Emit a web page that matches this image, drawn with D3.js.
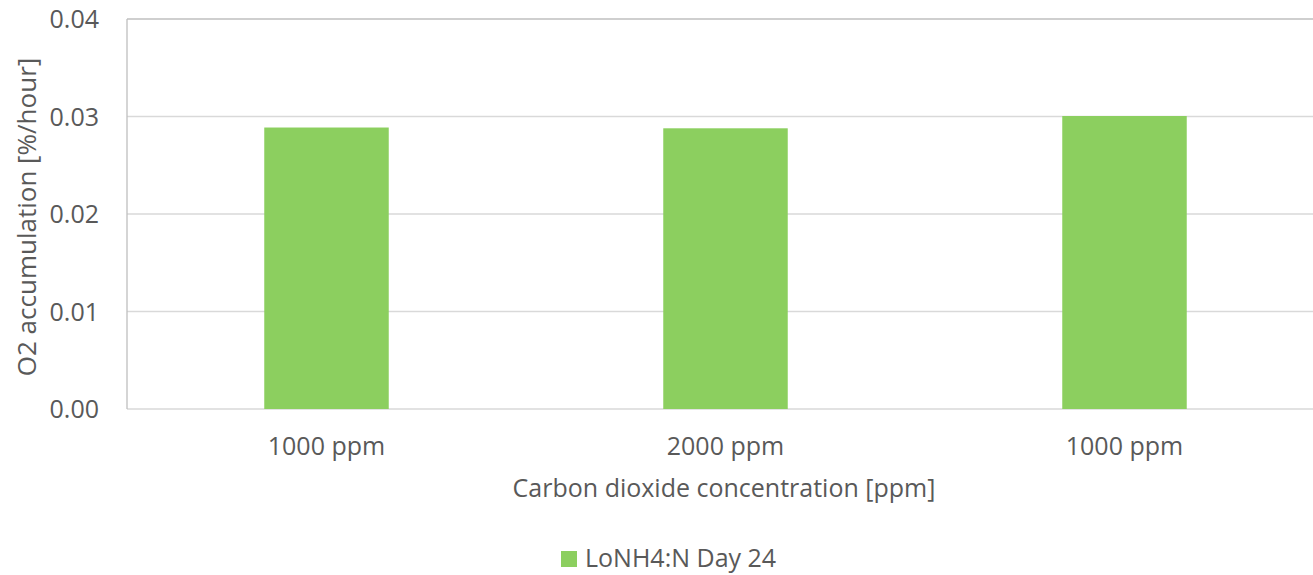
<!DOCTYPE html>
<html>
<head>
<meta charset="utf-8">
<script src="https://cdn.jsdelivr.net/npm/d3@7"></script>
<style>
  body { margin: 0; background: #fff; }
  text { font-family: "Open Sans", sans-serif; fill: #595959; }
</style>
</head>
<body>
<div id="chart-area"></div>
<script>
// chart data
const categories = ["1000 ppm", "2000 ppm", "1000 ppm "];
const values = [0.02887, 0.02879, 0.03005];
const seriesName = "LoNH4:N Day 24";
const yTicks = [0, 0.01, 0.02, 0.03, 0.04];

const width = 1313, height = 575;
const margin = { top: 19, left: 127, bottom: 166 };
const plotRight = 1324; // plot area runs a little past the picture edge

const svg = d3.select("#chart-area").append("svg")
    .attr("width", width)
    .attr("height", height)

const x = d3.scaleBand()
    .domain(categories)
    .range([margin.left, plotRight])
    .paddingInner(0.688)
    .paddingOuter(0.344)

const y = d3.scaleLinear()
    .domain([0, 0.04])
    .range([height - margin.bottom, margin.top])

// gridlines
svg.selectAll("line.grid")
    .data(yTicks)
    .enter().append("line")
    .attr("class", "grid")
    .attr("x1", margin.left)
    .attr("x2", plotRight)
    .attr("y1", d => y(d))
    .attr("y2", d => y(d))
    .attr("stroke", d => d === 0.04 ? "#bfbfbf" : "#d9d9d9")
    .attr("stroke-width", 1.3)

// left axis line
svg.append("line")
    .attr("x1", margin.left).attr("x2", margin.left)
    .attr("y1", y(0.04)).attr("y2", y(0))
    .attr("stroke", "#bfbfbf")
    .attr("stroke-width", 1.3)

// bars
svg.selectAll("rect.bar")
    .data(values)
    .enter().append("rect")
    .attr("class", "bar")
    .attr("x", (d, i) => x(categories[i]))
    .attr("width", x.bandwidth())
    .attr("y", d => y(d))
    .attr("height", d => y(0) - y(d))
    .attr("fill", "#8ccf5f")

// y tick labels
svg.selectAll("text.ytick")
    .data(yTicks)
    .enter().append("text")
    .attr("class", "ytick")
    .attr("x", 99)
    .attr("y", d => y(d))
    .attr("dy", "0.36em")
    .attr("text-anchor", "end")
    .style("font-size", "25px")
    .text(d => d3.format(".2f")(d))

// x tick labels
svg.selectAll("text.xtick")
    .data(categories)
    .enter().append("text")
    .attr("class", "xtick")
    .attr("x", d => x(d) + x.bandwidth() / 2)
    .attr("y", 455)
    .attr("text-anchor", "middle")
    .style("font-size", "25px")
    .text(d => d.trim())

// axis titles
svg.append("text")
    .attr("x", 724)
    .attr("y", 497)
    .attr("text-anchor", "middle")
    .style("font-size", "25px")
    .text("Carbon dioxide concentration [ppm]")

svg.append("text")
    .attr("transform", "translate(36,217) rotate(-90)")
    .attr("text-anchor", "middle")
    .style("font-size", "26px")
    .text("O2 accumulation [%/hour]")

// legend
svg.append("rect")
    .attr("x", 561).attr("y", 551)
    .attr("width", 16).attr("height", 16)
    .attr("fill", "#8ccf5f")

svg.append("text")
    .attr("x", 585)
    .attr("y", 567)
    .style("font-size", "25px")
    .text(seriesName)
</script>
</body>
</html>
